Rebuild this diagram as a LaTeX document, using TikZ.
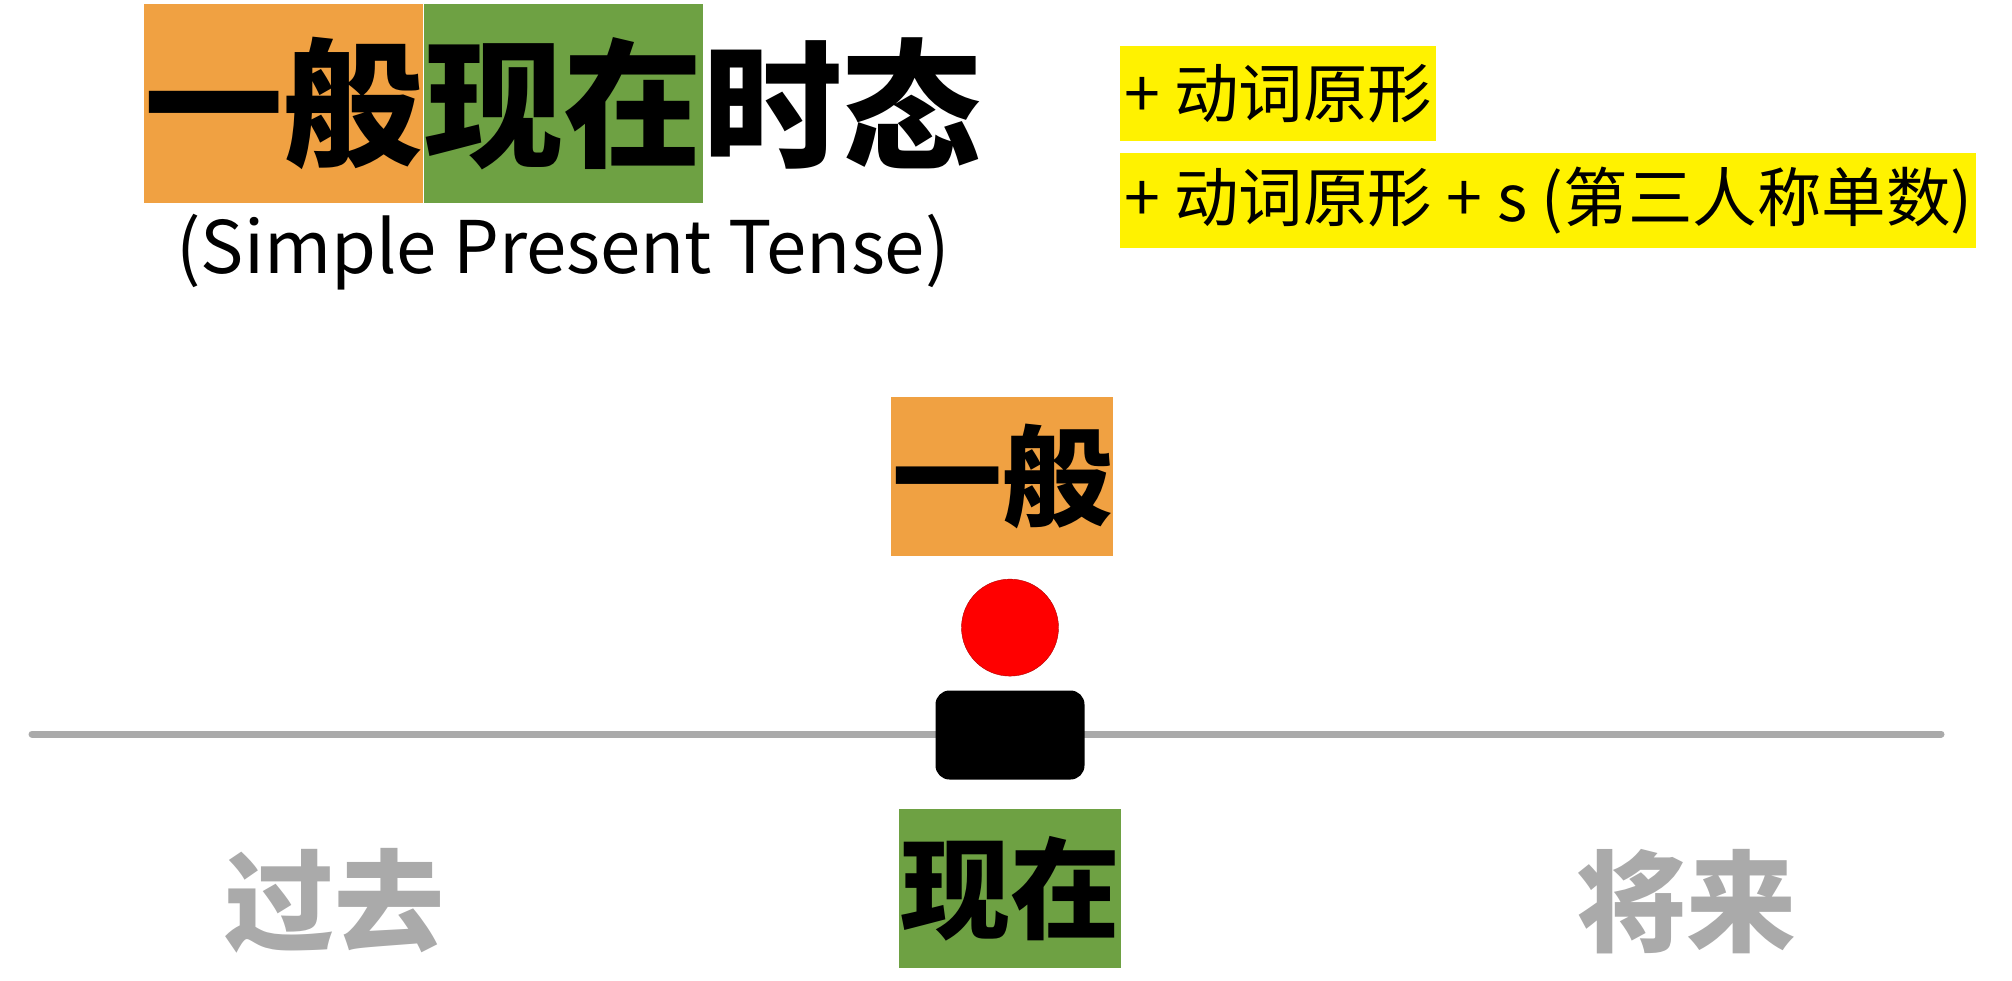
\documentclass[tikz,border=0pt]{standalone}
\usepackage{fontspec}
\setmainfont{Noto Sans CJK SC}
\newfontfamily\cjk{Noto Sans CJK SC}
\usepackage{xcolor}
\usetikzlibrary{positioning}

\definecolor{tenseorange}{HTML}{F0A142}
\definecolor{tensegreen}{HTML}{6EA143}
\definecolor{timegray}{HTML}{AAAAAA}
\definecolor{dotred}{HTML}{FF0000}

\begin{document}
\begin{tikzpicture}[
    x=1pt, y=1pt,
    titlebox/.style={inner sep=0pt, minimum width=279pt, minimum height=199pt, font=\cjk\bfseries\fontsize{139}{139}\selectfont},
    wordbox/.style={inner sep=0pt, minimum width=222pt, minimum height=159pt, font=\cjk\bfseries\fontsize{110}{110}\selectfont},
    rulebox/.style={fill=yellow, inner xsep=4pt, inner ysep=0pt, minimum height=95pt, align=left, font=\cjk\fontsize{64.5}{64.5}\selectfont},
    timeword/.style={text=timegray, font=\cjk\bfseries\fontsize{110}{110}\selectfont},
    timeline/.style={draw=timegray, line width=7pt, line cap=round}
]
    \useasboundingbox (0,0) rectangle (2012,-981);

    % Title
    \node[titlebox, fill=tenseorange, anchor=north west] (tgeneral) at (144,-4) {一般};
    \node[titlebox, fill=tensegreen, right=0pt of tgeneral] (tpresent) {现在};
    \node[titlebox, right=0pt of tpresent] (ttense) {时态};
    \node[font=\cjk\fontsize{72.5}{72.5}\selectfont] (english) at (563,-252) {(Simple Present Tense)};

    % Rules
    \node[rulebox, anchor=north west] (rule1) at (1120,-46) {+ 动词原形};
    \node[rulebox, below right=11pt and 0pt of rule1.south west] (rule2) {+ 动词原形 + s (第三人称单数)};

    % Time line
    \coordinate (pastend) at (32,-734);
    \coordinate (futureend) at (1941,-734);
    \draw[timeline] (pastend) -- (futureend);

    \node[fill=black, rounded corners=14pt, minimum width=149pt, minimum height=89pt, inner sep=0pt] (now) at (1010,-735) {};
    \node[circle, fill=dotred, draw=red!70!black, minimum size=97pt, inner sep=0pt, above=14pt of now] (dot) {};
    \node[wordbox, fill=tenseorange, above=23pt of dot, xshift=-8pt] (general) {一般};
    \node[wordbox, fill=tensegreen, below=29pt of now] (present) {现在};

    \node[timeword] (past) at (334,-901) {过去};
    \node[timeword] (future) at (1686,-902) {将来};
\end{tikzpicture}
\end{document}
